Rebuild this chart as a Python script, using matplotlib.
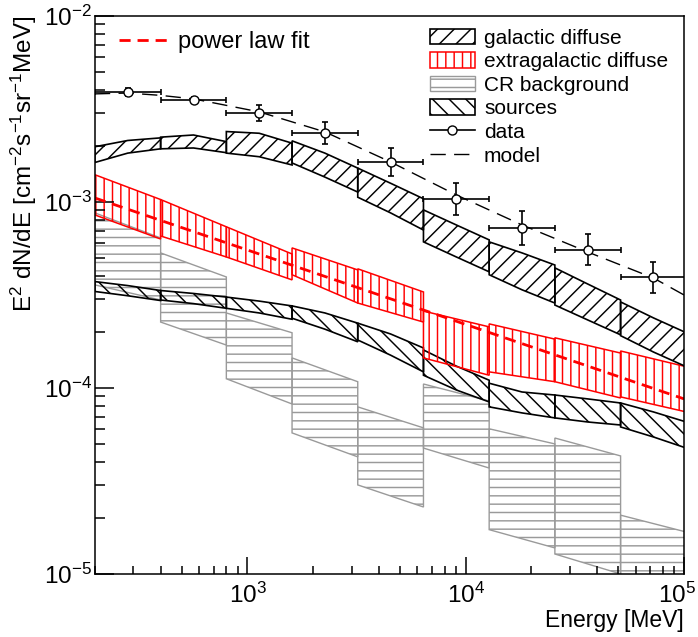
import matplotlib
matplotlib.use('Agg')
import matplotlib.pyplot as plt
import matplotlib.transforms as mtransforms
import numpy as np
from matplotlib.patches import Patch
from matplotlib.lines import Line2D
from matplotlib.ticker import NullFormatter, FixedLocator

plt.rcParams['font.family'] = ['Liberation Sans', 'DejaVu Sans']
plt.rcParams['mathtext.fontset'] = 'custom'
plt.rcParams['mathtext.rm'] = 'Liberation Sans'
plt.rcParams['mathtext.it'] = 'Liberation Sans:italic'
plt.rcParams['mathtext.bf'] = 'Liberation Sans:bold'
plt.rcParams['hatch.linewidth'] = 1.05

# Energy bins [MeV]
bin_edges = [200, 400, 800, 1600, 3200, 6400, 12800, 25600, 51200, 102400]

# galactic diffuse band, (left, mid, right) per bin
gal_hi = [(1.98e-3, 2.14e-3, 2.21e-3), (2.23e-3, 2.29e-3, 2.11e-3), (2.39e-3, 2.34e-3, 2.07e-3),
          (2.13e-3, 1.83e-3, 1.52e-3), (1.52e-3, 1.26e-3, 1.04e-3), (9.06e-4, 7.52e-4, 6.25e-4),
          (6.10e-4, 5.32e-4, 4.58e-4), (4.42e-4, 3.62e-4, 2.97e-4), (2.90e-4, 2.38e-4, 1.98e-4)]
gal_lo = [(1.63e-3, 1.83e-3, 1.93e-3), (1.93e-3, 1.95e-3, 1.84e-3), (1.83e-3, 1.75e-3, 1.58e-3),
          (1.62e-3, 1.36e-3, 1.13e-3), (1.06e-3, 8.73e-4, 7.06e-4), (6.10e-4, 5.06e-4, 4.21e-4),
          (4.06e-4, 3.37e-4, 2.86e-4), (2.79e-4, 2.32e-4, 1.93e-4), (1.91e-4, 1.56e-4, 1.30e-4)]

# sources band, (left, mid, right) per bin
src_hi = [(3.73e-4, 3.55e-4, 3.34e-4), (3.34e-4, 3.22e-4, 3.08e-4), (3.08e-4, 2.93e-4, 2.76e-4),
          (2.76e-4, 2.53e-4, 2.23e-4), (2.23e-4, 1.95e-4, 1.64e-4), (1.60e-4, 1.31e-4, 1.10e-4),
          (1.06e-4, 9.51e-5, 9.16e-5), (9.16e-5, 8.73e-5, 8.30e-5), (8.30e-5, 7.43e-5, 6.56e-5)]
src_lo = [(3.30e-4, 3.13e-4, 2.95e-4), (2.97e-4, 2.84e-4, 2.68e-4), (2.68e-4, 2.53e-4, 2.34e-4),
          (2.37e-4, 2.07e-4, 1.77e-4), (1.81e-4, 1.50e-4, 1.22e-4), (1.17e-4, 9.75e-5, 8.41e-5),
          (7.91e-5, 7.34e-5, 6.90e-5), (6.90e-5, 6.56e-5, 6.32e-5), (6.17e-5, 5.45e-5, 4.75e-5)]

# extragalactic diffuse band, (left, right) per bin
egb_hi = [(1.40e-3, 1.03e-3), (1.03e-3, 7.35e-4), (7.35e-4, 5.25e-4), (5.66e-4, 4.31e-4),
          (4.37e-4, 3.28e-4), (2.59e-4, 2.13e-4), (2.21e-4, 1.83e-4), (1.86e-4, 1.54e-4),
          (1.58e-4, 1.30e-4)]
egb_lo = [(8.51e-4, 6.32e-4), (6.56e-4, 5.06e-4), (5.06e-4, 3.81e-4), (4.06e-4, 2.86e-4),
          (2.86e-4, 2.26e-4), (1.45e-4, 1.17e-4), (1.22e-4, 1.08e-4), (1.08e-4, 8.83e-5),
          (8.95e-5, 7.43e-5)]

# CR background band, (left, right) per bin
cr_hi = [(8.73e-4, 6.40e-4), (5.32e-4, 3.95e-4), (2.53e-4, 1.98e-4), (1.45e-4, 1.08e-4),
         (7.91e-5, 6.10e-5), (1.05e-4, 8.51e-5), (6.03e-5, 5.00e-5), (5.38e-5, 4.31e-5),
         (2.07e-5, 1.68e-5)]
cr_lo = [(3.58e-4, 2.97e-4), (2.26e-4, 1.70e-4), (1.12e-4, 8.20e-5), (5.73e-5, 4.26e-5),
         (3.01e-5, 2.29e-5), (4.75e-5, 3.71e-5), (1.73e-5, 1.38e-5), (1.28e-5, 1.00e-5),
         (7.0e-6, 6.0e-6)]

# power law fit (end points)
fit_E = [200, 100000]
fit_val = [1.05e-3, 8.73e-5]

# model curve
model_E = [200, 283, 400, 566, 1131, 2263, 4525, 9051, 18102, 36204, 72408, 100000]
model_val = [3.81e-3, 3.85e-3, 3.74e-3, 3.58e-3, 3.05e-3, 2.38e-3, 1.64e-3, 1.09e-3,
             7.52e-4, 5.38e-4, 3.90e-4, 3.16e-4]

# data points
data_E = [283, 566, 1131, 2263, 4525, 9051, 18102, 36204, 72408]
data_val = [3.89e-3, 3.53e-3, 3.02e-3, 2.34e-3, 1.63e-3, 1.04e-3, 7.24e-4, 5.52e-4, 3.93e-4]
data_hi = [4.09e-3, 3.66e-3, 3.33e-3, 2.68e-3, 1.94e-3, 1.27e-3, 8.93e-4, 6.69e-4, 4.76e-4]
data_lo = [3.70e-3, 3.40e-3, 2.73e-3, 2.04e-3, 1.37e-3, 8.53e-4, 5.87e-4, 4.56e-4, 3.24e-4]

x_ticks = [1e3, 1e4, 1e5]

RED = '#ff0000'
GRAY = '#9a9a9a'


def draw_band(ax, hi, lo, color, hatch, lw=1.0):
    for i in range(len(hi)):
        a, b = bin_edges[i], bin_edges[i + 1]
        if len(hi[i]) == 3:
            xs = [a, np.sqrt(a * b), b]
        else:
            xs = [a, b]
        px = list(xs) + list(xs[::-1])
        py = list(hi[i]) + list(lo[i][::-1])
        ax.fill(px, py, facecolor='none', edgecolor=color, hatch=hatch, lw=lw)


fig = plt.figure(figsize=(6.98, 6.37), dpi=100)
ax = fig.add_axes([0.136, 0.099, 0.844, 0.876])
ax.set_xscale('log')
ax.set_yscale('log')

draw_band(ax, cr_hi, cr_lo, GRAY, '--', lw=1.0)
draw_band(ax, src_hi, src_lo, 'black', '\\\\', lw=1.2)
draw_band(ax, egb_hi, egb_lo, RED, '||', lw=1.1)
draw_band(ax, gal_hi, gal_lo, 'black', '//', lw=1.2)

ax.plot(fit_E, fit_val, color=RED, lw=2.0, ls=(0, (4, 2.5)))
ax.plot(model_E, model_val, color='black', lw=1.0, ls=(0, (11, 6)))

xerr = [np.array(data_E) - np.array(bin_edges[:-1]), np.array(bin_edges[1:]) - np.array(data_E)]
yerr = [np.array(data_val) - np.array(data_lo), np.array(data_hi) - np.array(data_val)]
ax.errorbar(data_E, data_val, xerr=xerr, yerr=yerr, fmt='o', color='black', mfc='white',
            mec='black', ms=6.5, lw=1.2, capsize=2.2, capthick=1.2, zorder=5)

ax.set_xlim(200, 1e5)
ax.set_ylim(1e-5, 1e-2)
ax.xaxis.set_major_locator(FixedLocator(x_ticks))
ax.xaxis.set_minor_formatter(NullFormatter())
ax.yaxis.set_minor_formatter(NullFormatter())
ax.tick_params(which='both', direction='in', top=False, right=False, labelsize=17.5, width=1.1)
ax.tick_params(axis='x', which='major', length=12, pad=6)
ax.tick_params(axis='x', which='minor', length=6)
ax.tick_params(axis='y', which='major', length=14, pad=2)
ax.tick_params(axis='y', which='minor', length=7)
for s in ax.spines.values():
    s.set_linewidth(1.1)

# keep the last tick label inside the figure
shift = mtransforms.ScaledTranslation(-0.07, 0, fig.dpi_scale_trans)
last = ax.xaxis.get_major_ticks()[-1]
last.label1.set_transform(last.label1.get_transform() + shift)

ax.set_xlabel('Energy [MeV]', fontsize=16.5, loc='right')
ax.xaxis.set_label_coords(1.0, -0.063)
ax.set_ylabel(r'E$^{2}$ dN/dE [cm$^{-2}$s$^{-1}$sr$^{-1}$MeV]', fontsize=17.5, loc='top')
ax.yaxis.set_label_coords(-0.095, 1.0)

h_fit = [Line2D([], [], color=RED, lw=2.0, ls=(0, (4, 2.5)))]
leg1 = ax.legend(h_fit, ['power law fit'], loc='upper left', bbox_to_anchor=(0.025, 0.99),
                 frameon=False, fontsize=17, handlelength=2.1, handletextpad=0.4, borderaxespad=0)
ax.add_artist(leg1)

handles = [Patch(facecolor='none', edgecolor='black', hatch='//', lw=1.2),
           Patch(facecolor='none', edgecolor=RED, hatch='||', lw=1.1),
           Patch(facecolor='none', edgecolor=GRAY, hatch='--', lw=1.0),
           Patch(facecolor='none', edgecolor='black', hatch='\\\\', lw=1.2),
           Line2D([], [], color='black', lw=1.2, marker='o', mfc='white', ms=6.5),
           Line2D([], [], color='black', lw=1.0, ls=(0, (11, 6)))]
labels = ['galactic diffuse', 'extragalactic diffuse', 'CR background', 'sources', 'data', 'model']
ax.legend(handles, labels, loc='upper left', bbox_to_anchor=(0.565, 0.981), frameon=False,
          fontsize=15, handlelength=2.15, handleheight=0.75, handletextpad=0.45,
          labelspacing=0.22, borderaxespad=0, borderpad=0.1)

fig.savefig('out.png', dpi=100)
